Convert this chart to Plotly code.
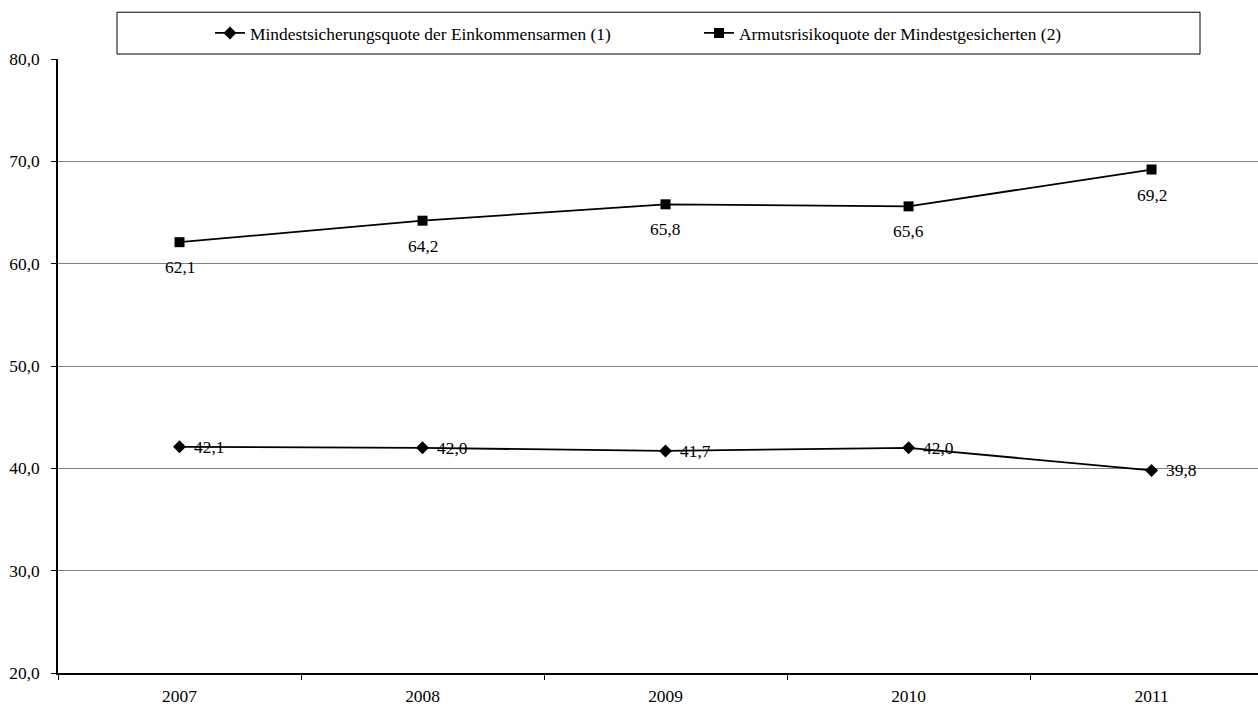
import plotly.graph_objects as go

years = ["2007", "2008", "2009", "2010", "2011"]
quote_einkommensarme = [42.1, 42.0, 41.7, 42.0, 39.8]
quote_mindestgesichert = [62.1, 64.2, 65.8, 65.6, 69.2]
name1 = "Mindestsicherungsquote der Einkommensarmen (1)"
name2 = "Armutsrisikoquote der Mindestgesicherten (2)"

FONT = "Liberation Serif"
FS = 17.4

fig = go.Figure()
fig.add_trace(go.Scatter(
    x=years, y=quote_einkommensarme, name=name1, mode="lines+markers",
    line=dict(color="black", width=1.8),
    marker=dict(symbol="diamond", size=10, color="black"),
))
fig.add_trace(go.Scatter(
    x=years, y=quote_mindestgesichert, name=name2, mode="lines+markers",
    line=dict(color="black", width=1.8),
    marker=dict(symbol="square", size=10, color="black"),
))

def fmt(v):
    return f"{v:.1f}".replace(".", ",")

for i, yv in enumerate(quote_einkommensarme):
    fig.add_annotation(x=i, y=yv, xref="x", yref="y", text=fmt(yv), showarrow=False,
                       xanchor="left", yanchor="middle",
                       xshift=12, yshift=0, font=dict(family=FONT, size=FS, color="black"))
for i, yv in enumerate(quote_mindestgesichert):
    fig.add_annotation(x=i, y=yv, xref="x", yref="y", text=fmt(yv), showarrow=False,
                       xanchor="center", yanchor="middle",
                       yshift=-25, font=dict(family=FONT, size=FS, color="black"))

# plot area (page px): x 58..1258, y 59..676
def px_x(p):
    return (p - 58) / 1200
def px_y(p):
    return (676 - p) / 617

fig.add_shape(type="rect", xref="paper", yref="paper",
              x0=px_x(117), x1=px_x(1200), y0=px_y(54), y1=px_y(12),
              line=dict(color="black", width=1), fillcolor="white", layer="below")

fig.update_layout(
    width=1258, height=706,
    margin=dict(l=58, r=0, t=59, b=30),
    paper_bgcolor="white", plot_bgcolor="white",
    separators=",.",
    font=dict(family=FONT, size=FS, color="black"),
    showlegend=True,
    legend=dict(orientation="h", x=px_x(210), xanchor="left", y=px_y(33), yanchor="middle",
                entrywidth=444, entrywidthmode="pixels", bgcolor="rgba(0,0,0,0)",
                font=dict(family=FONT, size=FS)),
    xaxis=dict(type="category", range=[-0.5, 4.438], showline=True, linecolor="black", linewidth=1.5,
               ticks="outside", tickson="boundaries", ticklen=5, tickcolor="black",
               ticklabelstandoff=6,
               showgrid=False, zeroline=False),
    yaxis=dict(range=[20, 80], dtick=10, tickformat=".1f", showline=True, linecolor="black", linewidth=1.5,
               ticks="outside", ticklen=5, tickcolor="black", ticklabelstandoff=8,
               showgrid=True, gridcolor="#808080", gridwidth=1.4, zeroline=False),
)

fig.write_html("out.html", config={"displayModeBar": False},
               post_script="document.body.style.margin='0';document.body.style.overflow='hidden';")
